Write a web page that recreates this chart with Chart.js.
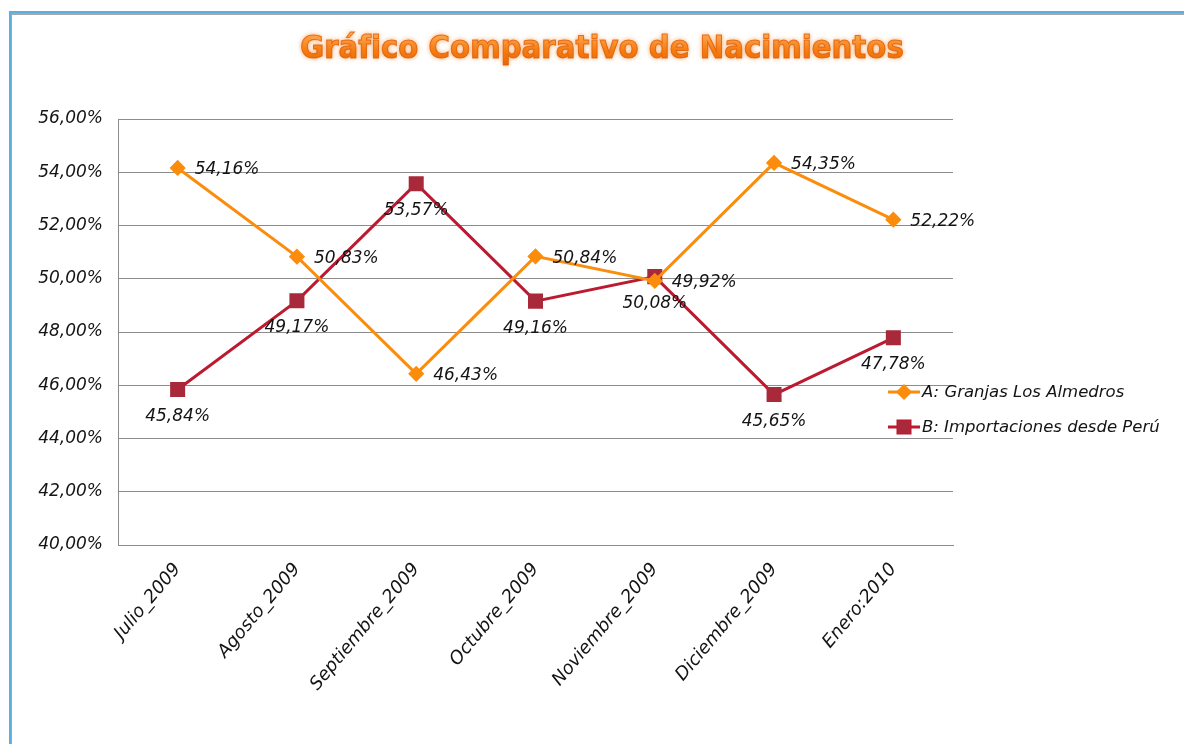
<!DOCTYPE html>
<html lang="es">
<head>
<meta charset="utf-8">
<title>Gráfico Comparativo de Nacimientos</title>
<script src="https://cdn.jsdelivr.net/npm/chart.js@4.4.1/dist/chart.umd.min.js"></script>
<style>
  html, body { margin: 0; padding: 0; background: #fff; }
  .frame {
    position: absolute;
    left: 9px;
    top: 11px;
    width: 1200px;
    height: 800px;
    border-left: 2px solid #5aaee0;
    border-top: 2px solid #5aaee0;
    box-shadow: inset 1px 2px 0 #a6a6a6;
  }
  #wrap { position: absolute; left: 0; top: 0; width: 1184px; height: 744px; }
</style>
</head>
<body>
<div class="frame"></div>
<div id="wrap"><canvas id="nacimientosChart" width="1184" height="744"></canvas></div>
<script>
const meses = ['Julio_2009', 'Agosto_2009', 'Septiembre_2009', 'Octubre_2009', 'Noviembre_2009', 'Diciembre_2009', 'Enero:2010'];
const granjasAlmedros = [54.16, 50.83, 46.43, 50.84, 49.92, 54.35, 52.22];
const importacionesPeru = [45.84, 49.17, 53.57, 49.16, 50.08, 45.65, 47.78];
const nombreSerieA = 'A: Granjas Los Almedros';
const nombreSerieB = 'B: Importaciones desde Perú';
const tituloGrafico = 'Gráfico Comparativo de Nacimientos';

const colorA = '#fb8c0c';
const colorB = '#bc1a30';
const colorMarcaB = '#a82a3a';
const colorTexto = '#141414';
const fuente = '"DejaVu Sans", Verdana, sans-serif';

const formatoPct = v => v.toFixed(2).replace('.', ',') + '%';

// title with orange glow, drawn on the canvas
const tituloPlugin = {
  id: 'tituloGlow',
  afterDraw(chart) {
    const ctx = chart.ctx;
    ctx.save();
    ctx.font = 'bold 32.5px "DejaVu Sans Condensed", "DejaVu Sans", sans-serif';
    ctx.textAlign = 'center';
    ctx.textBaseline = 'middle';
    const grad = ctx.createLinearGradient(0, 33, 0, 67);
    grad.addColorStop(0, '#ffab55');
    grad.addColorStop(0.5, '#f57d14');
    grad.addColorStop(1, '#e86200');
    ctx.shadowColor = 'rgba(235, 110, 10, 0.75)';
    ctx.shadowBlur = 5;
    ctx.fillStyle = grad;
    ctx.fillText(tituloGrafico, 602, 50);
    ctx.shadowBlur = 0;
    ctx.strokeStyle = 'rgba(224, 92, 0, 0.8)';
    ctx.lineWidth = 1;
    ctx.strokeText(tituloGrafico, 602, 50);
    ctx.restore();
  }
};

// value labels: serie A to the right of the point, serie B below it
const etiquetasPlugin = {
  id: 'etiquetasValores',
  afterDatasetsDraw(chart) {
    const ctx = chart.ctx;
    ctx.save();
    ctx.font = 'italic 17px ' + fuente;
    ctx.fillStyle = colorTexto;
    ctx.textBaseline = 'middle';
    chart.data.datasets.forEach((ds, i) => {
      const meta = chart.getDatasetMeta(i);
      meta.data.forEach((pt, j) => {
        const texto = formatoPct(ds.data[j]);
        if (i === 0) {
          ctx.textAlign = 'left';
          ctx.fillText(texto, pt.x + 17, pt.y + 2);
        } else {
          ctx.textAlign = 'center';
          ctx.fillText(texto, pt.x, pt.y + 27);
        }
      });
    });
    ctx.restore();
  }
};

// legend sitting over the right edge of the plot
const leyendaPlugin = {
  id: 'leyendaDerecha',
  afterDraw(chart) {
    const ctx = chart.ctx;
    const x0 = 888, ancho = 32;
    const filas = [392, 427];
    ctx.save();
    chart.data.datasets.forEach((ds, i) => {
      const y = filas[i];
      ctx.strokeStyle = ds.borderColor;
      ctx.lineWidth = 3;
      ctx.beginPath();
      ctx.moveTo(x0, y);
      ctx.lineTo(x0 + ancho, y);
      ctx.stroke();
      Chart.helpers.drawPoint(ctx, {
        pointStyle: ds.pointStyle,
        radius: ds.pointRadius,
        borderWidth: 1
      }, x0 + ancho / 2, y);
      ctx.fillStyle = ds.pointBackgroundColor;
      ctx.fill();
      ctx.font = 'italic 16.5px ' + fuente;
      ctx.fillStyle = colorTexto;
      ctx.textAlign = 'left';
      ctx.textBaseline = 'middle';
      ctx.fillText(ds.label, x0 + ancho + 2, y + 1);
    });
    ctx.restore();
  }
};

document.addEventListener('DOMContentLoaded', () => {
  const ctx = document.getElementById('nacimientosChart').getContext('2d');
  new Chart(ctx, {
    type: 'line',
    data: {
      labels: meses,
      datasets: [{
        label: nombreSerieA,
        data: granjasAlmedros,
        borderColor: colorA,
        backgroundColor: colorA,
        pointBackgroundColor: colorA,
        pointBorderColor: colorA,
        pointStyle: 'rectRot',
        pointRadius: 6,
        borderWidth: 3,
        tension: 0
      }, {
        label: nombreSerieB,
        data: importacionesPeru,
        borderColor: colorB,
        backgroundColor: colorMarcaB,
        pointBackgroundColor: colorMarcaB,
        pointBorderColor: colorMarcaB,
        pointStyle: 'rect',
        pointRadius: 8.5,
        borderWidth: 3,
        tension: 0
      }]
    },
    options: {
      responsive: false,
      animation: false,
      layout: { padding: { top: 119, right: 231, left: 0, bottom: 0 } },
      plugins: {
        legend: { display: false },
        title: { display: false },
        tooltip: { enabled: false }
      },
      scales: {
        x: {
          offset: true,
          grid: { display: false, drawTicks: false },
          border: { display: true, color: '#8c8c8c', width: 1 },
          ticks: {
            autoSkip: false,
            minRotation: 50,
            maxRotation: 50,
            padding: 14,
            color: colorTexto,
            font: { family: fuente, size: 18, style: 'italic' }
          },
          afterFit: scale => { scale.height = 199; }
        },
        y: {
          min: 40,
          max: 56,
          grid: { color: '#8c8c8c', lineWidth: 1, drawTicks: false },
          border: { display: true, color: '#8c8c8c', width: 1 },
          ticks: {
            stepSize: 2,
            padding: 15,
            color: colorTexto,
            font: { family: fuente, size: 17, style: 'italic' },
            callback: v => formatoPct(v)
          },
          afterFit: scale => { scale.width = 118; }
        }
      }
    },
    plugins: [etiquetasPlugin, leyendaPlugin, tituloPlugin]
  });
});
</script>
</body>
</html>
